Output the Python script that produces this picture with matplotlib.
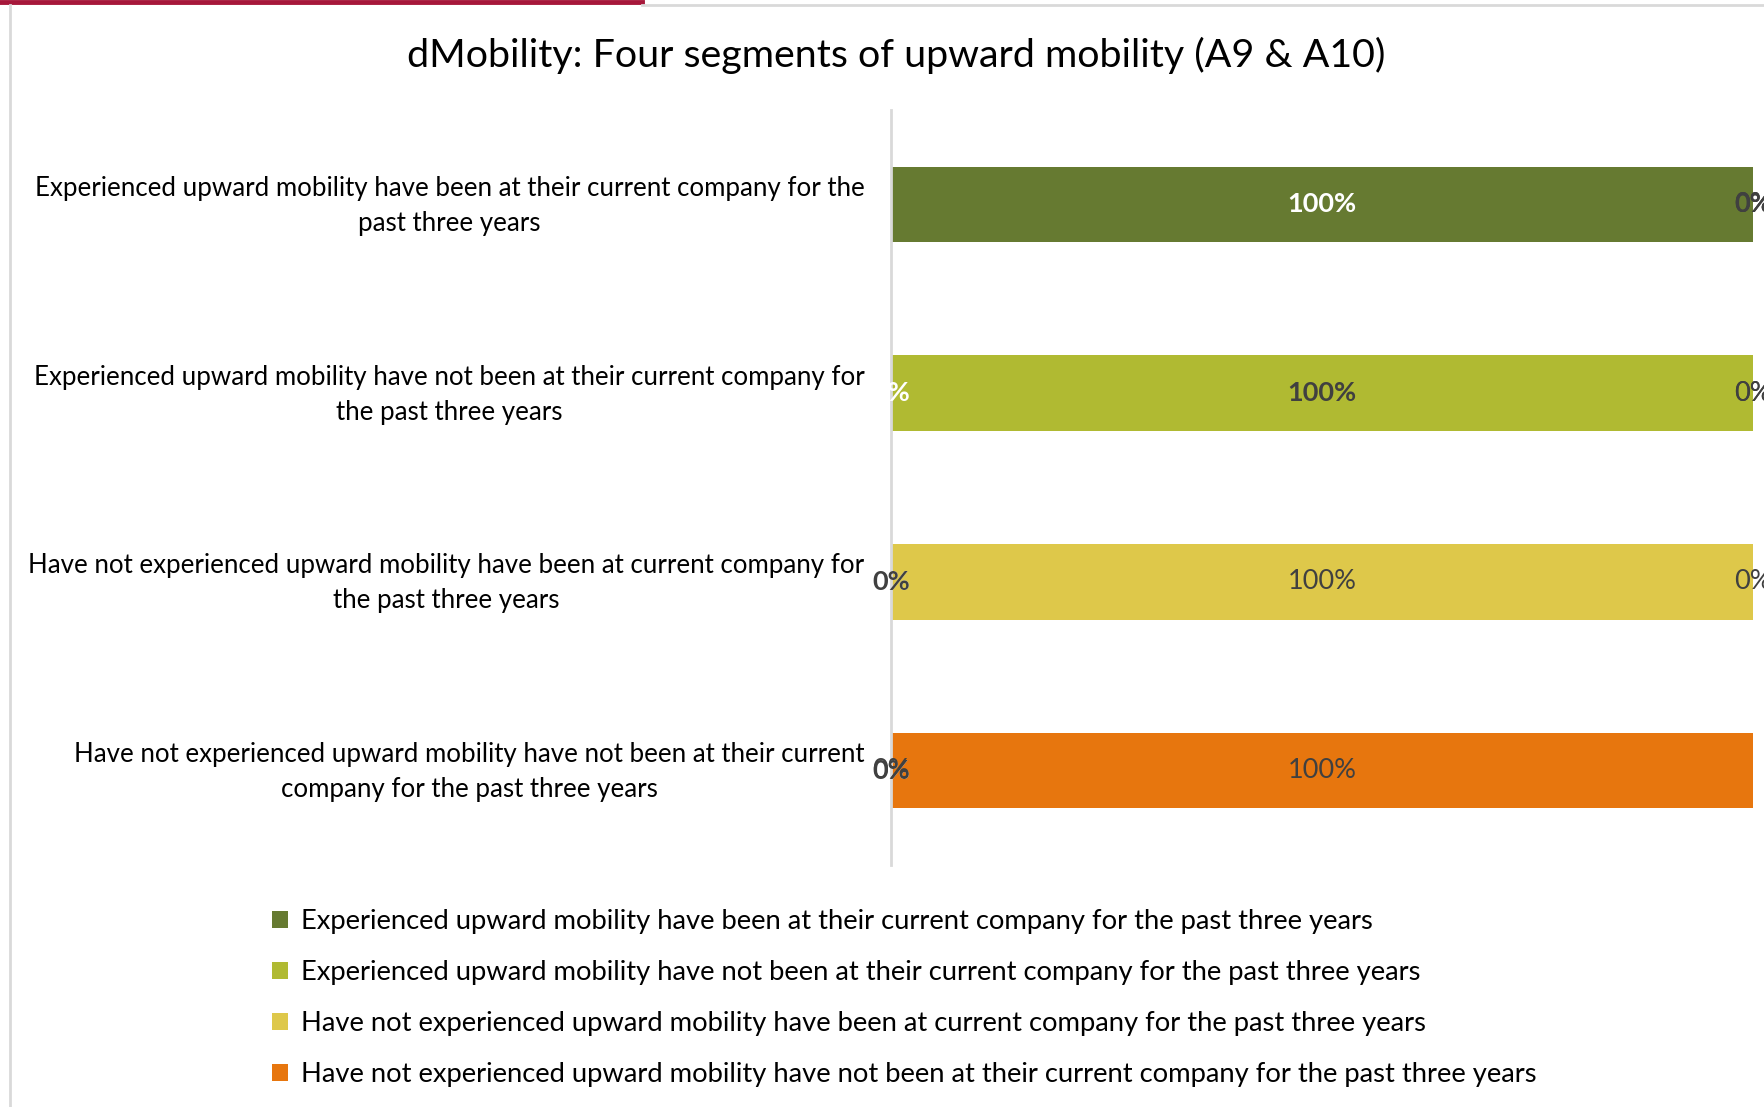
import matplotlib
matplotlib.use("Agg")
import matplotlib.pyplot as plt
from matplotlib.lines import Line2D
from matplotlib.patches import Patch
from matplotlib.transforms import ScaledTranslation

plt.rcParams['font.family'] = ['Lato', 'DejaVu Sans']

title = "dMobility: Four segments of upward mobility (A9 & A10)"

# rows, top to bottom
categories = [
    "Experienced upward mobility have been at their current company for the\npast three years",
    "Experienced upward mobility have not been at their current company for\nthe past three years",
    "Have not experienced upward mobility have been at current company for\nthe past three years",
    "Have not experienced upward mobility have not been at their current\ncompany for the past three years",
]

series_names = [
    "Experienced upward mobility have been at their current company for the past three years",
    "Experienced upward mobility have not been at their current company for the past three years",
    "Have not experienced upward mobility have been at current company for the past three years",
    "Have not experienced upward mobility have not been at their current company for the past three years",
]

seg1 = [100, 0, 0, 0]
seg2 = [0, 100, 0, 0]
seg3 = [0, 0, 100, 0]
seg4 = [0, 0, 0, 100]
series_values = [seg1, seg2, seg3, seg4]

colors = ['#667A31', '#B0BA32', '#DEC84A', '#E7760E']
label_colors = ['white', '#404040', '#404040', '#404040']
label_weights = ['bold', 'bold', 'normal', 'normal']

fig = plt.figure(figsize=(17.65, 11.07), dpi=100)
ax = fig.add_axes([891/1765, 1-865/1107, (1753-891)/1765, (865-110)/1107])

ypos = list(range(len(categories)))
left = [0]*len(categories)
for vals, c, lc, lw in zip(series_values, colors, label_colors, label_weights):
    bars = ax.barh(ypos, vals, left=left, height=0.4, color=c)
    labels = [f"{v}%" for v in vals]
    txts = ax.bar_label(bars, labels=labels, label_type='center', color=lc,
                        fontweight=lw, fontsize=19.5, clip_on=False)
    for t in txts:
        t.set_transform(t.get_transform() + ScaledTranslation(0, -0.025, fig.dpi_scale_trans))
    left = [a+b for a, b in zip(left, vals)]

ax.set_xlim(0, 100)
ax.set_ylim(len(categories)-0.5, -0.5)
ax.set_yticks(ypos)
ax.set_yticklabels(categories, fontsize=18.6, multialignment='center',
                   color='#000000', linespacing=1.5)
ax.tick_params(axis='y', length=0, pad=19)
# nudge the category labels up a little
for lab in ax.get_yticklabels():
    lab.set_transform(lab.get_transform() + ScaledTranslation(0, 0.06, fig.dpi_scale_trans))
ax.set_xticks([])
for s in ['top', 'right', 'bottom']:
    ax.spines[s].set_visible(False)
ax.spines['left'].set_color('#D9D9D9')
ax.spines['left'].set_linewidth(2)

fig.text(896/1765, 1-55/1107, title, ha='center', va='center', fontsize=28.4, color='#000000')

handles = [Patch(facecolor=c, edgecolor='none') for c in colors]
fig.legend(handles, series_names, loc='upper left', bbox_to_anchor=(272/1765, 1-909/1107),
           frameon=False, fontsize=19.7, handlelength=0.6, handleheight=0.6,
           handletextpad=0.45, labelspacing=0.95, borderpad=0, borderaxespad=0)

# chart frame like in the source screenshot
fig.add_artist(Line2D([0, 642/1765], [1-2/1107, 1-2/1107], color='#A6173A', lw=3.5))
fig.add_artist(Line2D([642/1765, 1], [1-5/1107, 1-5/1107], color='#D9D9D9', lw=2))
fig.add_artist(Line2D([10/1765, 10/1765], [0, 1-5/1107], color='#D9D9D9', lw=2))

fig.savefig("out.png", dpi=100)
